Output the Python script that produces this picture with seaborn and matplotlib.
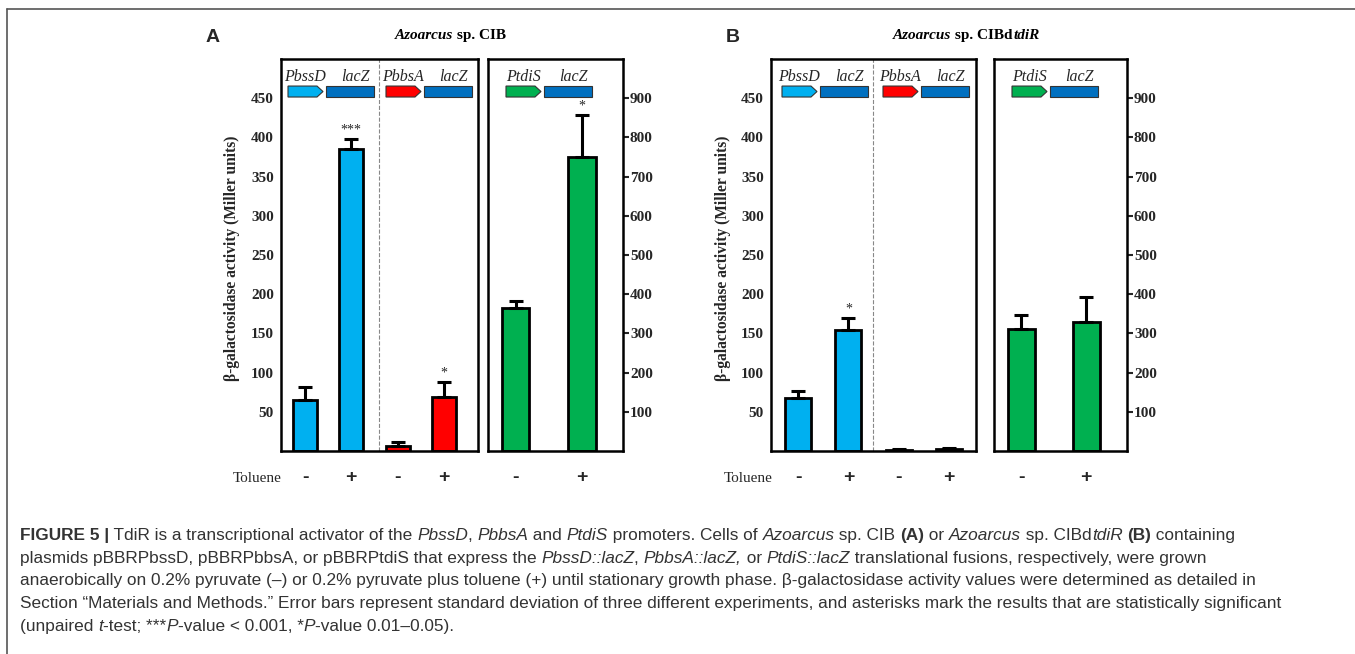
import numpy as np
import pandas as pd
import seaborn as sns
import matplotlib.pyplot as plt
from matplotlib.patches import Polygon, Rectangle
from matplotlib.lines import Line2D

# --- values ---
toluene = ['-', '+', '-', '+']
toluene2 = ['-', '+']

# panel A, Azoarcus sp. CIB
a_prom_vals = [65, 385, 6, 69]
a_prom_sd = [16, 13, 5, 19]
a_prom_stars = ['', '***', '', '*']
a_tdis_vals = [365, 750]
a_tdis_sd = [18, 107]
a_tdis_stars = ['', '*']

# panel B, Azoarcus sp. CIBdtdiR
b_prom_vals = [68, 154, 1.5, 3]
b_prom_sd = [8, 16, 0.7, 1.2]
b_prom_stars = ['', '*', '', '']
b_tdis_vals = [312, 328]
b_tdis_sd = [34, 64]
b_tdis_stars = ['', '']

prom_colors = ['#00B0F0', '#00B0F0', '#FF0000', '#FF0000']
tdis_colors = ['#00B050', '#00B050']
lacz_color = '#0070C0'

W, H = 1355, 654
SERIF = ['Liberation Serif', 'DejaVu Serif']
SANS = ['Liberation Sans', 'DejaVu Sans']

sns.set_style('white')
plt.rcParams['font.family'] = SERIF

fig = plt.figure(figsize=(W / 100, H / 100), dpi=100)


def px_axes(x0, y0, x1, y1):
    # box given in pixel coords (top-left origin)
    return fig.add_axes([x0 / W, 1 - y1 / H, (x1 - x0) / W, (y1 - y0) / H])


def draw_bars(ax, vals, sd, stars, colors, width, signs):
    n = len(vals)
    df = pd.DataFrame({'cond': ['c%d' % i for i in range(n)], 'val': vals})
    sns.barplot(data=df, x='cond', y='val', hue='cond', palette=colors,
                width=width, edgecolor='black', linewidth=2.0, saturation=1,
                legend=False, ax=ax)
    ax.errorbar(np.arange(n), vals, yerr=[np.zeros(n), sd], fmt='none',
                ecolor='black', elinewidth=2.2, capsize=5.2, capthick=2.2,
                zorder=5)
    for i in range(n):
        if stars[i]:
            ax.annotate(stars[i], (i, vals[i] + sd[i]), xytext=(0, 1.5),
                        textcoords='offset points', ha='center', va='bottom',
                        fontsize=10, family=SERIF)
    ax.set_xlabel('')
    ax.set_ylabel('')
    ax.set_xticks(range(n))
    ax.set_xticklabels(signs, fontfamily=SANS, fontweight='bold', fontsize=14)
    ax.tick_params(axis='x', length=0, pad=13)
    for s in ax.spines.values():
        s.set_visible(True)
        s.set_color('black')
        s.set_linewidth(1.8)


def style_y(ax, ticks, right=False):
    ax.set_yticks(ticks)
    if right:
        ax.yaxis.tick_right()
    ax.tick_params(axis='y', direction='out', length=4, width=1.5, pad=1,
                   labelsize=11)
    for lbl in ax.get_yticklabels():
        lbl.set_fontweight('bold')


def gene(ax, s_px, color, name):
    wpx = ax.get_position().width * W
    f = lambda p: p / wpx
    y0, y1 = 0.903, 0.931
    x0, x1, tip = f(s_px), f(s_px + 35), f(6)
    ax.add_patch(Polygon([(x0, y0), (x1 - tip, y0), (x1, (y0 + y1) / 2),
                          (x1 - tip, y1), (x0, y1)], closed=True,
                         transform=ax.transAxes, facecolor=color,
                         edgecolor='#333333', lw=0.8, clip_on=False))
    ax.add_patch(Rectangle((f(s_px + 38), y0), f(48), y1 - y0,
                           transform=ax.transAxes, facecolor=lacz_color,
                           edgecolor='#333333', lw=0.8, clip_on=False))
    ax.text(f(s_px + 17), 0.955, name, transform=ax.transAxes, ha='center',
            va='center', style='italic', fontsize=11.5)
    ax.text(f(s_px + 67), 0.955, 'lacZ', transform=ax.transAxes, ha='center',
            va='center', style='italic', fontsize=11.5)


renderer = fig.canvas.get_renderer()


def ink_w(s, size, family, weight, style):
    t = fig.text(0, 0, s, fontsize=size, family=family, weight=weight, style=style)
    w = t.get_window_extent(renderer).width
    t.remove()
    return w


def adv_w(s, size, family, weight, style):
    # advance width of s, spaces included
    return (ink_w('|' + s + '|', size, family, weight, style)
            - ink_w('||', size, family, weight, style))


def rich(x_px, y_px, parts, size, family, color='black', ha='left'):
    # parts: (text, weight, style[, extra gap before in px]); y_px is baseline
    offs = []
    total = 0
    for p in parts:
        s, wt, st = p[:3]
        if len(p) > 3:
            total += p[3]
        offs.append(total)
        total += adv_w(s, size, family, wt, st)
    if ha == 'center':
        x_px -= total / 2
    for off, p in zip(offs, parts):
        s, wt, st = p[:3]
        fig.text((x_px + off) / W, 1 - y_px / H, s, fontsize=size,
                 family=family, weight=wt, style=st, color=color,
                 va='baseline', ha='left')
    return total


# --- panel A ---
axA1 = px_axes(281, 59, 478, 451)
draw_bars(axA1, a_prom_vals, a_prom_sd, a_prom_stars, prom_colors, 0.52, toluene)
axA1.set_xlim(-0.52, 3.74)
axA1.set_ylim(0, 500)
style_y(axA1, [50, 100, 150, 200, 250, 300, 350, 400, 450])
axA1.axvline(1.6, color='#888888', ls='--', lw=0.8)
gene(axA1, 7, '#00B0F0', 'PbssD')
gene(axA1, 105, '#FF0000', 'PbbsA')

axA2 = px_axes(488, 59, 623, 451)
draw_bars(axA2, a_tdis_vals, a_tdis_sd, a_tdis_stars, tdis_colors, 0.41, toluene2)
axA2.set_xlim(-0.42, 1.62)
axA2.set_ylim(0, 1000)
style_y(axA2, [100, 200, 300, 400, 500, 600, 700, 800, 900], right=True)
gene(axA2, 18, '#00B050', 'PtdiS')

# --- panel B ---
axB1 = px_axes(771, 59, 976, 451)
draw_bars(axB1, b_prom_vals, b_prom_sd, b_prom_stars, prom_colors, 0.52, toluene)
axB1.set_xlim(-0.54, 3.54)
axB1.set_ylim(0, 500)
style_y(axB1, [50, 100, 150, 200, 250, 300, 350, 400, 450])
axB1.axvline(1.49, color='#888888', ls='--', lw=0.8)
gene(axB1, 11, '#00B0F0', 'PbssD')
gene(axB1, 112, '#FF0000', 'PbbsA')

axB2 = px_axes(994, 59, 1127, 451)
draw_bars(axB2, b_tdis_vals, b_tdis_sd, b_tdis_stars, tdis_colors, 0.42, toluene2)
axB2.set_xlim(-0.42, 1.63)
axB2.set_ylim(0, 1000)
style_y(axB2, [100, 200, 300, 400, 500, 600, 700, 800, 900], right=True)
gene(axB2, 18, '#00B050', 'PtdiS')

ylab = 'β-galactosidase activity (Miller units)'
for x in (232, 723):
    fig.text(x / W, 1 - 258 / H, ylab, rotation=90, ha='center', va='center',
             fontsize=11.2, fontweight='bold')
for x in (257, 748):
    fig.text(x / W, 1 - 478 / H, 'Toluene', ha='center', va='center', fontsize=11)

fig.text(213 / W, 1 - 37 / H, 'A', ha='center', va='center', family=SANS,
         fontweight='bold', fontsize=14)
fig.text(733 / W, 1 - 37 / H, 'B', ha='center', va='center', family=SANS,
         fontweight='bold', fontsize=14)
rich(450, 39, [('Azoarcus', 'bold', 'italic'), (' sp. CIB', 'bold', 'normal')],
     11, SERIF, ha='center')
rich(966, 39, [('Azoarcus', 'bold', 'italic'), (' sp. CIBd', 'bold', 'normal'),
               ('tdiR', 'bold', 'italic', 1)], 11, SERIF, ha='center')

# --- caption ---
N, B, I = ('normal', 'normal'), ('bold', 'normal'), ('normal', 'italic')
cap_lines = [
    [('FIGURE 5 |', *B), (' TdiR is a transcriptional activator of the ', *N), ('PbssD', *I),
     (', ', *N), ('PbbsA', *I), (' and ', *N), ('PtdiS', *I), (' promoters. Cells of ', *N),
     ('Azoarcus', *I), (' sp. CIB ', *N), ('(A)', *B), (' or ', *N), ('Azoarcus', *I),
     (' sp. CIBd', *N), ('tdiR', *I), (' ', *N), ('(B)', *B), (' containing', *N)],
    [('plasmids pBBRPbssD, pBBRPbbsA, or pBBRPtdiS that express the ', *N), ('PbssD::lacZ', *I),
     (', ', *N), ('PbbsA::lacZ,', *I), (' or ', *N), ('PtdiS::lacZ', *I),
     (' translational fusions, respectively, were grown', *N)],
    [('anaerobically on 0.2% pyruvate (–) or 0.2% pyruvate plus toluene (+) until stationary '
      'growth phase. β-galactosidase activity values were determined as detailed in', *N)],
    [('Section “Materials and Methods.” Error bars represent standard deviation of three '
      'different experiments, and asterisks mark the results that are statistically significant', *N)],
    [('(unpaired ', *N), ('t', *I), ('-test; ***', *N), ('P', *I), ('-value < 0.001, *', *N),
     ('P', *I), ('-value 0.01–0.05).', *N)],
]
# fit the first caption line to its width in the reference
w11 = sum(adv_w(s, 11, SANS, wt, st) for s, wt, st in cap_lines[0])
cap_size = 11 * 1213 / w11
for k, parts in enumerate(cap_lines):
    rich(20, 540 + 22.7 * k, parts, cap_size, SANS, color='#333333')

# frame lines at top and left
fig.add_artist(Line2D([7 / W, 1], [1 - 9 / H, 1 - 9 / H], color='#555555', lw=1.2))
fig.add_artist(Line2D([7 / W, 7 / W], [0, 1 - 9 / H], color='#555555', lw=1.2))

fig.savefig('out.png', dpi=100)
